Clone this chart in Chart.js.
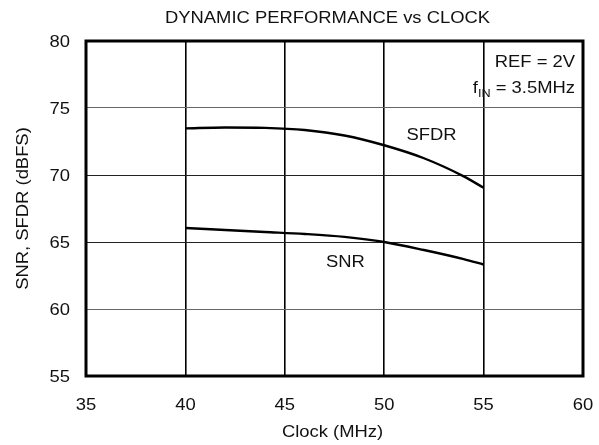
<!DOCTYPE html>
<html>
<head>
<meta charset="utf-8">
<script src="https://cdn.jsdelivr.net/npm/chart.js@4"></script>
<style>
  html, body { margin: 0; padding: 0; background: #fff; }
  #wrap { width: 599px; height: 445px; }
</style>
</head>
<body>
<div id="wrap"><canvas id="chart" width="599" height="445"></canvas></div>
<script>
// values
const clockMHz = [40, 42, 44, 46, 48, 50, 52, 54, 55]
const sfdr = [73.48, 73.55, 73.52, 73.36, 72.95, 72.22, 71.25, 69.9, 69.05]
const snr = [66.05, 65.9, 65.75, 65.6, 65.38, 65.0, 64.4, 63.72, 63.32]
const xTicks = [35, 40, 45, 50, 55, 60]
const yTicks = [55, 60, 65, 70, 75, 80]

const FONT = '"Liberation Sans", Arial, sans-serif'
const STRETCH = 1.15 // the original lettering is a bit wide

function txt(ctx, s, x, y, align, size) {
  ctx.save()
  ctx.translate(x, y)
  ctx.scale(STRETCH, 1)
  ctx.font = size + 'px ' + FONT
  ctx.textAlign = align
  ctx.textBaseline = 'alphabetic'
  ctx.fillStyle = '#111'
  ctx.fillText(s, 0, 0)
  ctx.restore()
}

function width(ctx, s, size) {
  ctx.font = size + 'px ' + FONT
  return ctx.measureText(s).width * STRETCH
}

const textPlugin = {
  id: 'texts',
  afterDraw(chart) {
    const ctx = chart.ctx
    const a = chart.chartArea
    const xs = chart.scales.x
    const ys = chart.scales.y

    // frame
    ctx.save()
    ctx.strokeStyle = '#000'
    ctx.lineWidth = 3
    ctx.strokeRect(a.left, a.top, a.right - a.left, a.bottom - a.top)
    ctx.restore()

    // tick labels
    xTicks.forEach(v => txt(ctx, String(v), xs.getPixelForValue(v), a.bottom + 34, 'center', 16))
    yTicks.forEach(v => txt(ctx, String(v), a.left - 16, ys.getPixelForValue(v) + 6, 'right', 16))

    // titles
    txt(ctx, 'DYNAMIC PERFORMANCE vs CLOCK', (a.left + a.right) / 2 - 7, 23, 'center', 16)
    txt(ctx, 'Clock (MHz)', (a.left + a.right) / 2 - 2, 437, 'center', 16)
    ctx.save()
    ctx.translate(28, (a.top + a.bottom) / 2)
    ctx.rotate(-Math.PI / 2)
    txt(ctx, 'SNR, SFDR (dBFS)', 0, 0, 'center', 16)
    ctx.restore()

    // curve labels
    txt(ctx, 'SFDR', xs.getPixelForValue(52.38), ys.getPixelForValue(72.61), 'center', 16)
    txt(ctx, 'SNR', xs.getPixelForValue(48.05), ys.getPixelForValue(63.16), 'center', 16)

    // conditions box text
    const right = a.right - 8
    txt(ctx, 'REF = 2V', right, a.top + 26, 'right', 16)
    const rest = ' = 3.5MHz'
    const wRest = width(ctx, rest, 16)
    const wSub = width(ctx, 'IN', 11)
    const wF = width(ctx, 'f', 16)
    const base = a.top + 52
    txt(ctx, rest, right, base, 'right', 16)
    txt(ctx, 'IN', right - wRest - wSub, base + 4, 'left', 11)
    txt(ctx, 'f', right - wRest - wSub - wF, base, 'left', 16)
  }
}

const ctx = document.getElementById('chart').getContext('2d')
const myChart = new Chart(ctx, {
  type: 'line',
  data: {
    labels: clockMHz,
    datasets: [
      {
        label: 'SFDR',
        data: clockMHz.map((x, i) => ({ x: x, y: sfdr[i] })),
        borderColor: '#000',
        borderWidth: 2.4,
        pointRadius: 0,
        cubicInterpolationMode: 'monotone',
        fill: false
      },
      {
        label: 'SNR',
        data: clockMHz.map((x, i) => ({ x: x, y: snr[i] })),
        borderColor: '#000',
        borderWidth: 2.4,
        pointRadius: 0,
        cubicInterpolationMode: 'monotone',
        fill: false
      }
    ]
  },
  options: {
    responsive: false,
    animation: false,
    layout: { padding: { top: 41, right: 16, left: 0, bottom: 0 } },
    plugins: {
      legend: { display: false },
      title: { display: false },
      tooltip: { enabled: false }
    },
    scales: {
      x: {
        type: 'linear',
        min: 35,
        max: 60,
        afterBuildTicks: s => { s.ticks = xTicks.map(v => ({ value: v })) },
        afterFit: s => { s.height = 69 },
        ticks: { display: false },
        border: { display: false },
        grid: { color: '#000', lineWidth: 1.6, drawTicks: false }
      },
      y: {
        type: 'linear',
        min: 55,
        max: 80,
        afterBuildTicks: s => { s.ticks = yTicks.map(v => ({ value: v })) },
        afterFit: s => { s.width = 86 },
        ticks: { display: false },
        border: { display: false },
        grid: {
          color: ctx => (ctx.tick && (ctx.tick.value === 75 || ctx.tick.value === 60)) ? '#666' : '#222',
          lineWidth: 1,
          drawTicks: false
        }
      }
    }
  },
  plugins: [textPlugin]
})
</script>
</body>
</html>
